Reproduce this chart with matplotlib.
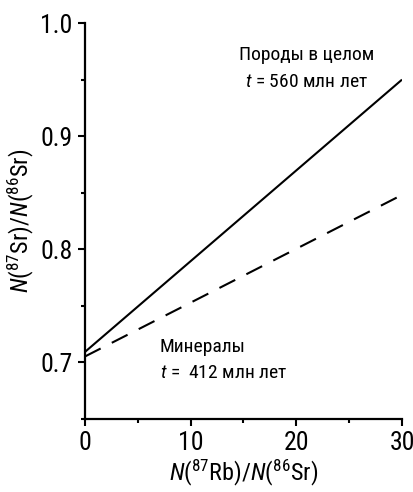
import numpy as np
import matplotlib
matplotlib.use("Agg")
import matplotlib.pyplot as plt
from matplotlib.ticker import MultipleLocator

# шрифт: узкий гротеск
FONT = "Roboto Condensed"
plt.rcParams["font.family"] = [FONT, "DejaVu Sans"]
plt.rcParams["mathtext.fontset"] = "custom"
plt.rcParams["mathtext.rm"] = FONT
plt.rcParams["mathtext.it"] = FONT + ":italic"

# изохроны: отношение 87Rb/86Sr -> 87Sr/86Sr
x_rb = [0, 30]
sr_rocks = [0.709, 0.950]      # породы в целом, 560 млн лет
sr_minerals = [0.705, 0.848]   # минералы, 412 млн лет

x_ticks = [0, 10, 20, 30]
y_ticks = [0.7, 0.8, 0.9, 1.0]

fig = plt.figure(figsize=(4.14, 4.92), dpi=100)
ax = fig.add_axes([0.205, 0.149, 0.766, 0.804])

ax.plot(x_rb, sr_rocks, color="black", lw=1.5, solid_capstyle="butt")
ax.plot(x_rb, sr_minerals, color="black", lw=1.5, dashes=(8.5, 6))

ax.set_xlim(0, 30)
ax.set_ylim(0.65, 1.0)
ax.set_xticks(x_ticks)
ax.set_yticks(y_ticks)
ax.set_yticklabels([f"{v:.1f}" for v in y_ticks])
ax.xaxis.set_minor_locator(MultipleLocator(5))
ax.yaxis.set_minor_locator(MultipleLocator(0.05))
ax.tick_params(which="major", length=5, width=1.5, labelsize=18.5, pad=4)
ax.tick_params(which="minor", length=3, width=1.5)

for side in ("top", "right"):
    ax.spines[side].set_visible(False)
for side in ("left", "bottom"):
    ax.spines[side].set_linewidth(1.6)

ax.set_xlabel(r"$\it{N}\rm{(}^{87}\rm{Rb)/}\it{N}\rm{(}^{86}\rm{Sr)}$", fontsize=17.5, labelpad=2)
ax.set_ylabel(r"$\it{N}\rm{(}^{87}\rm{Sr)/}\it{N}\rm{(}^{86}\rm{Sr)}$", fontsize=17.5, labelpad=3)

ax.text(21.0, 0.972, "Породы в целом", fontsize=14, ha="center", va="center")
ax.text(21.0, 0.948, r"$\it{t}$ = 560 млн лет", fontsize=14, ha="center", va="center")
ax.text(7.1, 0.713, "Минералы", fontsize=14, ha="left", va="center")
ax.text(7.1, 0.690, r"$\it{t}$ =  412 млн лет", fontsize=14, ha="left", va="center")

fig.savefig("out.png", dpi=100)
